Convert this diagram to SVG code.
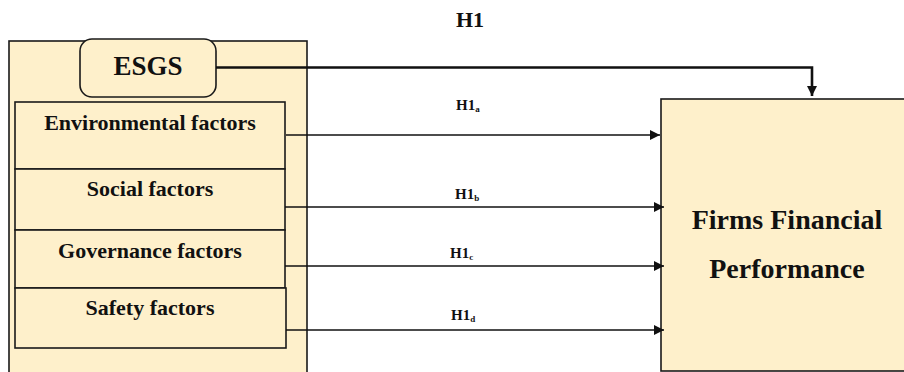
<svg xmlns="http://www.w3.org/2000/svg" width="904" height="372" viewBox="0 0 904 372">
<style>
.box{fill:#FEF0CB;stroke:#1a1a1a;stroke-width:1.6}
.t{font-family:"Liberation Serif","Times New Roman",serif;font-weight:bold;fill:#111}
.conn{stroke:#111;stroke-width:1.6;fill:none}
.thick{stroke:#111;stroke-width:2.6;fill:none}
</style>
<defs>
<marker id="ah" viewBox="0 0 10 10" refX="10" refY="5" markerWidth="11" markerHeight="10" markerUnits="userSpaceOnUse" orient="auto">
<path d="M0,0 L10,5 L0,10 Z" fill="#111"/>
</marker>
<marker id="ahd" viewBox="0 0 10 10" refX="10" refY="5" markerWidth="12" markerHeight="10" markerUnits="userSpaceOnUse" orient="auto">
<path d="M0,0 L10,5 L0,10 Z" fill="#111"/>
</marker>
</defs>
<rect width="904" height="372" fill="#fff"/>
<g id="outer"><rect class="box" x="9" y="41" width="298" height="345"/></g>
<g id="esgs"><rect class="box" x="80" y="39" width="136" height="58" rx="12"/><text class="t" x="148" y="75" font-size="27" text-anchor="middle">ESGS</text></g>
<g id="env"><rect class="box" x="15" y="102" width="270" height="67"/><text class="t" x="150" y="130" font-size="22" text-anchor="middle">Environmental factors</text></g>
<g id="social"><rect class="box" x="15" y="169" width="270" height="61"/><text class="t" x="150" y="196" font-size="22" text-anchor="middle">Social factors</text></g>
<g id="gov"><rect class="box" x="15" y="230" width="270" height="58"/><text class="t" x="150" y="258" font-size="22" text-anchor="middle">Governance factors</text></g>
<g id="safety"><rect class="box" x="15" y="288" width="271" height="60"/><text class="t" x="150" y="315" font-size="22" text-anchor="middle">Safety factors</text></g>
<g id="ffp"><rect class="box" x="661" y="99" width="260" height="272"/><text class="t" x="787" y="229" font-size="28" text-anchor="middle">Firms Financial</text><text class="t" x="787" y="278" font-size="28" text-anchor="middle">Performance</text></g>
<g id="connectors">
<path class="thick" d="M216,67.5 H812 V96" marker-end="url(#ahd)"/>
<path class="conn" d="M286,135 H660" marker-end="url(#ah)"/>
<path class="conn" d="M285,207 H664" marker-end="url(#ah)"/>
<path class="conn" d="M285,266 H664" marker-end="url(#ah)"/>
<path class="conn" d="M286,330 H664" marker-end="url(#ah)"/>
</g>
<g id="labels">
<text class="t" x="456" y="27" font-size="22">H1</text>
<text class="t" x="456" y="110" font-size="15">H1<tspan font-size="9" dy="2">a</tspan></text>
<text class="t" x="455" y="199" font-size="15">H1<tspan font-size="9" dy="2">b</tspan></text>
<text class="t" x="450" y="258" font-size="15">H1<tspan font-size="9" dy="2">c</tspan></text>
<text class="t" x="451" y="320" font-size="15">H1<tspan font-size="9" dy="2">d</tspan></text>
</g>
</svg>
